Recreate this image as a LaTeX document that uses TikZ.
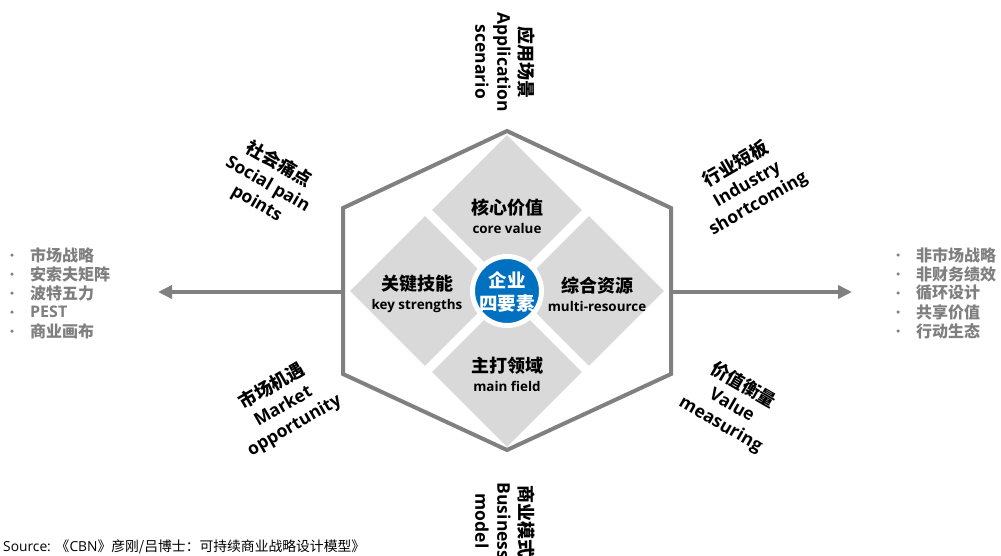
\documentclass[tikz,border=0pt]{standalone}
\usepackage{fontspec}
\setmainfont{Open Sans}
\newfontfamily\cjk{Noto Sans CJK SC}
\usetikzlibrary{arrows.meta,shapes.geometric}
\definecolor{hexgray}{HTML}{808080}
\definecolor{dgray}{HTML}{D9D9D9}
\definecolor{coreblue}{HTML}{0070C0}
\definecolor{listgray}{HTML}{7F7F7F}
\newcommand{\zh}[1]{{\cjk\bfseries #1}}
\begin{document}
\begin{tikzpicture}[x=1pt,y=-1pt,
  hexline/.style={draw=hexgray, line width=4pt, line join=miter},
  sidearrow/.style={draw=hexgray, line width=4pt, -{Triangle[length=14pt,width=13pt]}},
  dia/.style={diamond, fill=dgray, minimum width=150pt, minimum height=150pt, inner sep=0pt},
  corecircle/.style={circle, fill=coreblue, draw=white, line width=5pt, minimum size=69pt, inner sep=0pt},
  innerlabel/.style={align=center, inner sep=0pt, font=\bfseries\fontsize{13.4}{19}\selectfont},
  outerlabel/.style={align=center, inner sep=0pt, font=\bfseries\fontsize{17.5}{22}\selectfont},
  listtext/.style={anchor=west, inner sep=0pt, text=listgray, font=\bfseries\fontsize{16}{19.5}\selectfont},
  bullet/.style={circle, fill=listgray, inner sep=0pt, minimum size=3.5pt}
]
\useasboundingbox (0,0) rectangle (1001,555);

% hexagon
\coordinate (vt) at (507,131);
\coordinate (vtr) at (671,208);
\coordinate (vbr) at (671,374);
\coordinate (vb) at (507,450);
\coordinate (vbl) at (343,374);
\coordinate (vtl) at (343,208);
\draw[hexline] (vt) -- (vtr) -- (vbr) -- (vb) -- (vbl) -- (vtl) -- cycle;

% arrows
\coordinate (ml) at (343,292);
\coordinate (mr) at (671,292);
\coordinate (al) at (158,292);
\coordinate (ar) at (852,292);
\draw[sidearrow] (ml) -- (al);
\draw[sidearrow] (mr) -- (ar);

% diamonds
\node[dia] (dtop) at (507,210) {};
\node[dia] (dleft) at (425,291) {};
\node[dia] (dright) at (589,291) {};
\node[dia] (dbot) at (507,372) {};

% core circle
\node[corecircle] (core) at (507,291) {};
\node[align=center, inner sep=0pt, text=white, font=\fontsize{18.5}{23}\selectfont] (coretext) at (507,292) {\zh{企业}\\\zh{四要素}};

% diamond labels
\node[innerlabel] (ltop) at (507,216) {{\fontsize{18}{19}\selectfont\zh{核心价值}}\\core value};
\node[innerlabel] (lleft) at (417,294) {{\fontsize{18}{19}\selectfont\zh{关键技能}}\\key strengths};
\node[innerlabel] (lright) at (597,294) {{\fontsize{18}{19}\selectfont\zh{综合资源}}\\multi-resource};
\node[innerlabel] (lbot) at (507,374) {{\fontsize{18}{19}\selectfont\zh{主打领域}}\\main field};

% outer labels
\node[outerlabel, rotate=-90] (otop) at (505,62) {{\fontsize{18}{22}\selectfont\zh{应用场景}}\\Application\\scenario};
\node[outerlabel, rotate=-90] (obot) at (505,521) {{\fontsize{18}{22}\selectfont\zh{商业模式}}\\Business\\model};
\node[outerlabel, rotate=-30] (oul) at (268,184) {{\fontsize{18}{22}\selectfont\zh{社会痛点}}\\Social pain\\points};
\node[outerlabel, rotate=30] (our) at (747,184) {{\fontsize{18}{22}\selectfont\zh{行业短板}}\\Industry\\shortcoming};
\node[outerlabel, rotate=30] (oll) at (283,406) {{\fontsize{18}{22}\selectfont\zh{市场机遇}}\\Market\\opportunity};
\node[outerlabel, rotate=-30] (olr) at (732,405) {{\fontsize{18}{22}\selectfont\zh{价值衡量}}\\Value\\measuring};

% left list
\node[bullet] (lb1) at (12,255) {};
\node[bullet] (lb2) at (12,274) {};
\node[bullet] (lb3) at (12,293) {};
\node[bullet] (lb4) at (12,312) {};
\node[bullet] (lb5) at (12,331) {};
\node[listtext] (lt1) at (30,255) {\zh{市场战略}};
\node[listtext] (lt2) at (30,274) {\zh{安索夫矩阵}};
\node[listtext] (lt3) at (30,293) {\zh{波特五力}};
\node[listtext] (lt4) at (30,312) {PEST};
\node[listtext] (lt5) at (30,331) {\zh{商业画布}};

% right list
\node[bullet] (rb1) at (898,255) {};
\node[bullet] (rb2) at (898,274) {};
\node[bullet] (rb3) at (898,293) {};
\node[bullet] (rb4) at (898,312) {};
\node[bullet] (rb5) at (898,331) {};
\node[listtext] (rt1) at (916,255) {\zh{非市场战略}};
\node[listtext] (rt2) at (916,274) {\zh{非财务绩效}};
\node[listtext] (rt3) at (916,293) {\zh{循环设计}};
\node[listtext] (rt4) at (916,312) {\zh{共享价值}};
\node[listtext] (rt5) at (916,331) {\zh{行动生态}};

% source
\node[anchor=west, inner sep=0pt, font=\fontsize{13.8}{15}\selectfont] (src) at (3,547) {Source: {\cjk 《}CBN{\cjk 》彦刚/吕博士：可持续商业战略设计模型》}};
\end{tikzpicture}
\end{document}
